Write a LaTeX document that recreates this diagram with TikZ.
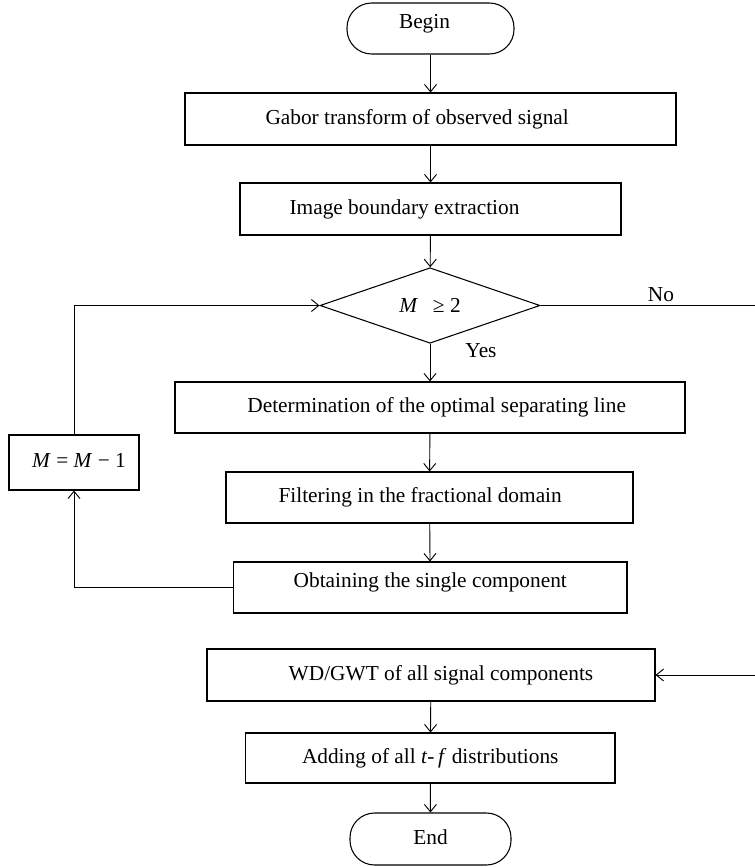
\documentclass[tikz,border=0pt]{standalone}
\usepackage{fontspec}
\setmainfont{Liberation Serif}
\usetikzlibrary{shapes.geometric,arrows.meta}
\begin{document}
\begin{tikzpicture}[x=0.75pt,y=-0.75pt,
  font=\fontsize{16}{19}\selectfont,
  box/.style={draw,line width=0.8pt,inner sep=0pt,text height=11pt,text depth=3.5pt},
  raised/.style={text depth=11pt},
  term/.style={box,rounded corners=18.5pt},
  dec/.style={draw,line width=0.8pt,diamond,inner sep=0pt,minimum width=165pt,minimum height=53.25pt},
  conn/.style={draw,line width=0.7pt,-{Straight Barb[length=5.5pt,width=9pt]}}]
\useasboundingbox (0,0) rectangle (755,867);

\node[term,raised,minimum width=125.25pt,minimum height=38.25pt] (begin) at (430.5,28.5) {Begin\hspace*{9pt}};
\node[box,minimum width=368.25pt,minimum height=39pt] (gabor) at (430.5,119) {Gabor transform of observed signal\hspace*{20pt}};
\node[box,minimum width=285.75pt,minimum height=39pt] (edge) at (430.5,209) {Image boundary extraction\hspace*{39pt}};
\node[dec] (cond) at (430,305.5) {\textit{M}\hspace{0.7em}≥ 2};
\node[box,minimum width=382.5pt,minimum height=38.25pt] (sep) at (430,407.5) {\hspace*{10pt}Determination of the optimal separating line};
\node[box,minimum width=305.25pt,minimum height=38.25pt] (filt) at (429.5,497.5) {Filtering in the fractional domain\hspace*{14pt}};
\node[box,raised,minimum width=295.125pt,minimum height=38.25pt] (obt) at (430.25,587.5) {Obtaining the single component};
\node[box,minimum width=97.5pt,minimum height=41.25pt] (dec1) at (74,462.5) {\hspace*{7.5pt}\textit{M} = \textit{M} − 1};
\node[box,minimum width=336pt,minimum height=39pt] (wd) at (431,675) {\hspace*{15pt}WD/GWT of all signal components};
\node[box,minimum width=277.125pt,minimum height=37.5pt] (add) at (430.25,758) {Adding of all \textit{t}-\,\textit{f} distributions};
\node[term,minimum width=120.75pt,minimum height=39pt] (end) at (430.5,839) {End};

\node (no) at (661,295) {No};
\node (yes) at (481,351) {Yes};

\coordinate (lt) at (74,305.5);
\coordinate (lb) at (74,587.5);
\coordinate (rt) at (758,305.5);
\coordinate (rb) at (758,675);

\path[conn] (begin) -- (gabor);
\path[conn] (gabor) -- (edge);
\path[conn] (edge) -- (cond);
\path[conn] (cond) -- (sep);
\path[conn] (sep) -- (filt);
\path[conn] (filt) -- (obt);
\path[conn] (obt.west) -- (lb) -- (dec1.south);
\path[conn] (dec1.north) -- (lt) -- (cond.west);
\path[conn] (cond.east) -- (rt) -- (rb) -- (wd.east);
\path[conn] (wd) -- (add);
\path[conn] (add) -- (end);
\end{tikzpicture}
\end{document}
